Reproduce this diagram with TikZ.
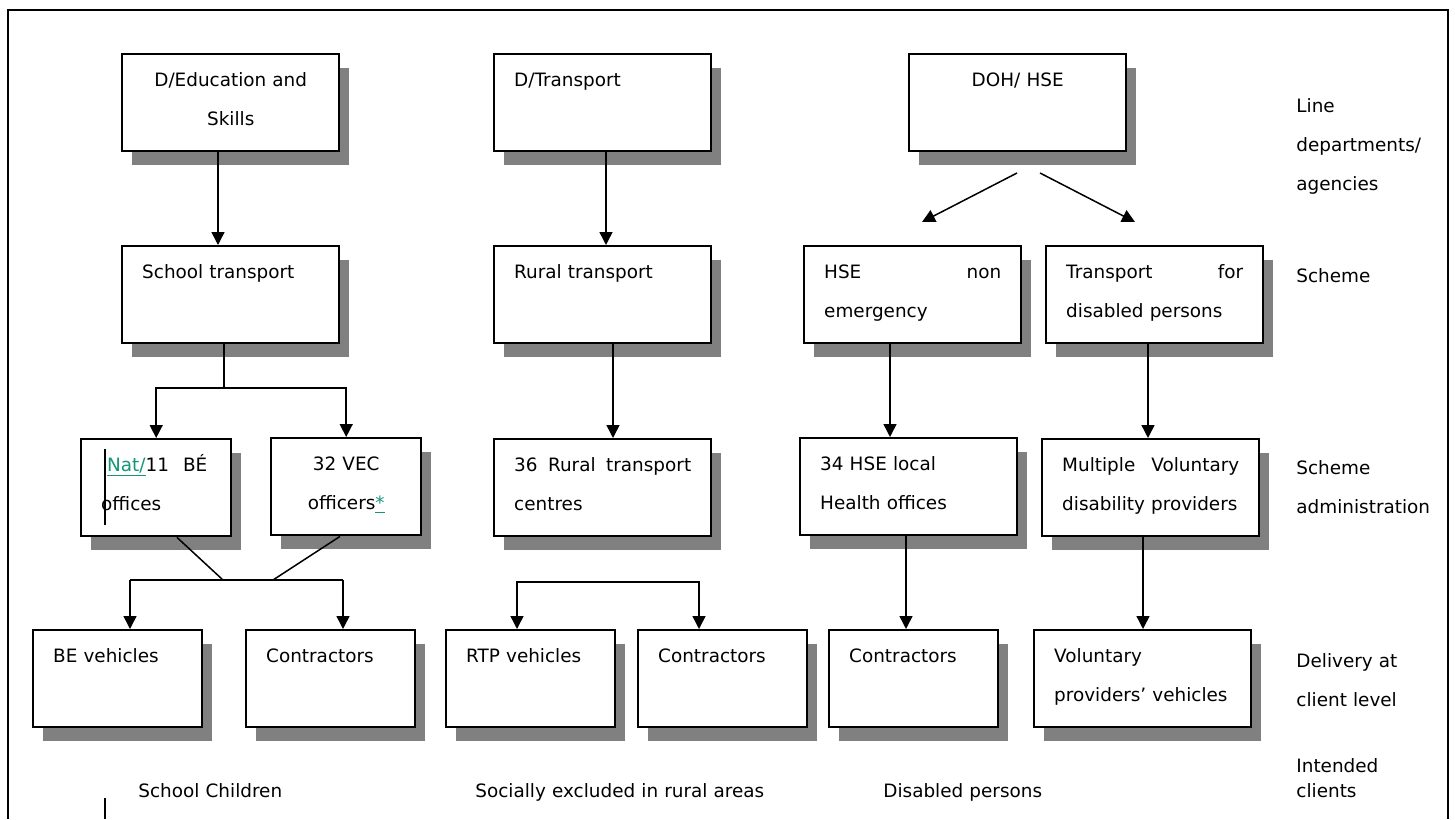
\documentclass[tikz,border=0pt]{standalone}
\usepackage{fontspec}
\setmainfont{DejaVu Sans}
\usepackage{xcolor}
\usetikzlibrary{arrows.meta}
\usetikzlibrary{shadows}

\definecolor{trackgreen}{RGB}{20,150,120}

\tikzset{
  box/.style={draw, line width=1.2pt, fill=white, anchor=north west, align=left,
    text width=88.5pt, inner xsep=10pt, inner ysep=9pt, text height=7pt, text depth=23.5pt,
    font=\fontsize{9.2}{19.5}\selectfont,
    drop shadow={shadow xshift=5pt, shadow yshift=-7pt, fill=black!50, opacity=1}},
  smallbox/.style={box, text width=55pt},
  lowbox/.style={box, text width=64.5pt},
  lbl/.style={anchor=north west, inner sep=0pt, align=left, text width=75pt, text height=7pt,
    font=\fontsize{9.2}{19.5}\selectfont},
  clientlbl/.style={lbl, text width=160pt},
  link/.style={line width=0.75pt},
  arr/.style={link, -{Triangle[length=6.5pt,width=6.5pt]}},
  darr/.style={link, {Triangle[length=6.5pt,width=6.5pt]}-{Triangle[length=6.5pt,width=6.5pt]}},
  frame/.style={line width=1.2pt}
}

\begin{document}
\begin{tikzpicture}[x=0.5pt,y=-0.5pt]
\useasboundingbox (0,0) rectangle (1455,819);

%Frame
\draw[frame] (8,819) -- (8,10) -- (1448,10) -- (1448,819);

%Line departments/agencies
\node[box, align=center] (edu) at (121,53) {D/Education and\\Skills};
\node[box] (trans) at (493,53) {D/Transport};
\node[box, align=center] (doh) at (908,53) {DOH/ HSE};

%Scheme
\node[box] (school) at (121,245) {School transport};
\node[box] (rural) at (493,245) {Rural transport};
\node[box] (hsenon) at (803,245) {HSE\hfill non\\emergency};
\node[box] (disab) at (1045,245) {Transport\hfill for\\disabled persons};

%Scheme administration
\node[smallbox] (nat) at (80,438) {\mbox{\hspace*{3pt}\textcolor{trackgreen}{\underline{Nat/}}11\hspace{7pt}BÉ}\\offices};
\node[smallbox, align=center] (vec) at (270,437) {32 VEC\\officers\textcolor{trackgreen}{\underline{*}}};
\node[box] (rtc) at (493,438) {36\hfill Rural\hfill transport\\centres};
\node[box] (hseloc) at (799,437) {34 HSE local\\Health offices};
\node[box] (volprov) at (1041,438) {Multiple\hfill Voluntary\\disability providers};

%Delivery at client level
\node[lowbox] (bevh) at (32,629) {BE vehicles};
\node[lowbox] (contra) at (245,629) {Contractors};
\node[lowbox] (rtpv) at (445,629) {RTP vehicles};
\node[lowbox] (contrb) at (637,629) {Contractors};
\node[lowbox] (contrc) at (828,629) {Contractors};
\node[box] (volveh) at (1033,629) {Voluntary\\providers’ vehicles};

% Text Node
\node[lbl] (lvlline) at (1296,98) {Line\\departments/\\agencies};
\node[lbl] (lvlscheme) at (1296,268) {Scheme};
\node[lbl] (lvladmin) at (1296,460) {Scheme\\administration};
\node[lbl] (lvldeliv) at (1296,653) {Delivery at\\client level};
\node[lbl, font=\fontsize{9.2}{12.5}\selectfont] (lvlclient) at (1296,758) {Intended\\clients};

% Text Node
\node[clientlbl] (clschool) at (138,783) {School Children};
\node[clientlbl] (clrural) at (475,783) {Socially excluded in rural areas};
\node[clientlbl] (cldisab) at (883,783) {Disabled persons};

%Straight Lines
\coordinate (xedu) at (218,0);
\draw[arr] (edu.south -| xedu) -- (school.north -| xedu);
\coordinate (xtra) at (606,0);
\draw[arr] (trans.south -| xtra) -- (rural.north -| xtra);
\coordinate (dohl) at (1017,173);
\coordinate (dohlt) at (922,222);
\coordinate (dohr) at (1040,173);
\coordinate (dohrt) at (1135,222);
\draw[arr] (dohl) -- (dohlt);
\draw[arr] (dohr) -- (dohrt);

%School transport fork
\coordinate (xsch) at (224,388);
\draw[link] (school.south -| xsch) -- (xsch);
\draw[arr] (xsch) -| (nat.north);
\draw[arr] (xsch) -| (vec.north);

%Offices merge
\coordinate (natm) at (177,0);
\coordinate (vecm) at (340,0);
\coordinate (jl) at (223,580);
\coordinate (jr) at (273,580);
\coordinate (ml) at (130,580);
\coordinate (mr) at (343,580);
\draw[link] (nat.south -| natm) -- (jl);
\draw[link] (vec.south -| vecm) -- (jr);
\draw[link] (ml) -- (mr);
\draw[arr] (ml) -- (bevh.north -| ml);
\draw[arr] (mr) -- (contra.north -| mr);

%Rural transport
\coordinate (xrtc) at (613,0);
\draw[arr] (rural.south -| xrtc) -- (rtc.north -| xrtc);
\coordinate (rl) at (517,582);
\coordinate (rr) at (699,582);
\draw[darr] (rtpv.north -| rl) |- (rr) -- (contrb.north -| rr);

%Health
\coordinate (xhse) at (890,0);
\draw[arr] (hsenon.south -| xhse) -- (hseloc.north -| xhse);
\coordinate (xhsec) at (906,0);
\draw[arr] (hseloc.south -| xhsec) -- (contrc.north -| xhsec);
\coordinate (xdis) at (1148,0);
\draw[arr] (disab.south -| xdis) -- (volprov.north -| xdis);
\coordinate (xvol) at (1143,0);
\draw[arr] (volprov.south -| xvol) -- (volveh.north -| xvol);

%Change bars
\draw[link] (105,449) -- (105,525);
\draw[link] (105,798) -- (105,819);

\end{tikzpicture}
\end{document}
